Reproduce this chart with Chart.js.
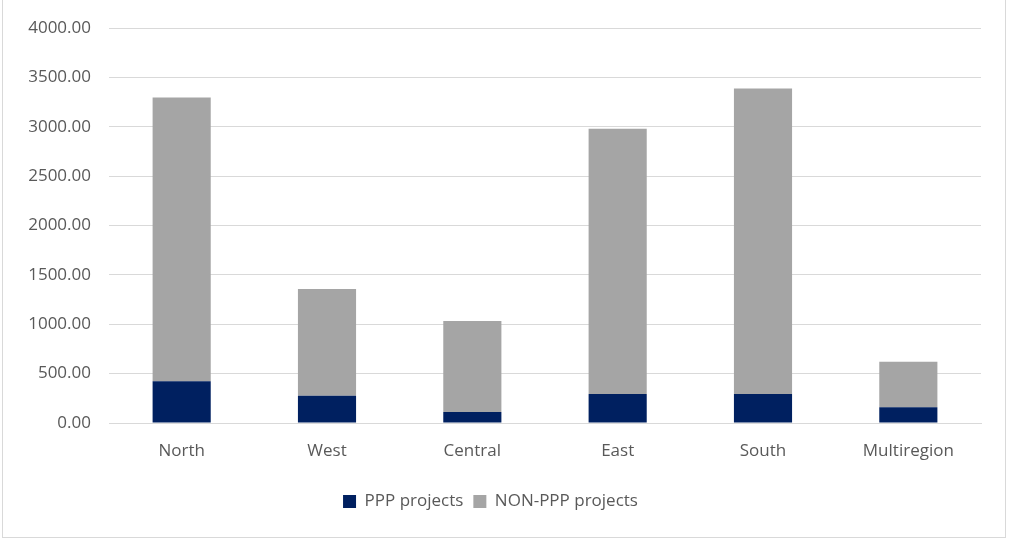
<!DOCTYPE html>
<html>
<head>
<meta charset="utf-8">
<script src="https://cdn.jsdelivr.net/npm/chart.js@4"></script>
<style>
  body { margin: 0; background: #fff; }
  #wrap { width: 1010px; height: 540px; position: relative; }
</style>
</head>
<body>
<div id="wrap"><canvas id="graph" width="1010" height="540"></canvas></div>
<script>
var ctx = document.getElementById("graph").getContext("2d")

// values
var regions = ["North", "West", "Central", "East", "South", "Multiregion"];
var pppValues = [422, 276, 111, 294, 294, 159];
var nonPppValues = [2876, 1081, 922, 2686, 3095, 462];

var seriesNames = ["PPP projects", "NON-PPP projects"];
var yMax = 4000;
var yStep = 500;

// light frame round the whole chart
var framePlugin = {
    id: "frame",
    afterDraw: function (chart) {
        let c = chart.ctx;
        c.save();
        c.strokeStyle = "#d9d9d9";
        c.lineWidth = 1;
        c.strokeRect(2.5, -1.5, 1003, 539);
        c.restore();
    }
};

Chart.defaults.font.family = "'Open Sans', 'Noto Sans', sans-serif";
Chart.defaults.font.size = 17;
Chart.defaults.color = "#595959";

var chart = new Chart(ctx, {
    type: "bar",
    data: {
        labels: regions,
        datasets: [
            {
                label: seriesNames[0],
                data: pppValues,
                backgroundColor: "#002060",
                barPercentage: 0.4,
                categoryPercentage: 1.0
            },
            {
                label: seriesNames[1],
                data: nonPppValues,
                backgroundColor: "#a5a5a5",
                barPercentage: 0.4,
                categoryPercentage: 1.0
            }
        ]
    },
    options: {
        responsive: false,
        animation: false,
        layout: {
            padding: { left: 0, right: 29, top: 28, bottom: 20 }
        },
        plugins: {
            tooltip: { enabled: false },
            legend: {
                position: "bottom",
                labels: {
                    boxWidth: 13,
                    boxHeight: 13,
                    padding: 10,
                    font: { size: 17 }
                }
            }
        },
        scales: {
            x: {
                stacked: true,
                grid: { display: false },
                border: { color: "#d9d9d9" },
                ticks: { padding: 10, font: { size: 17 } },
                afterFit: function (axis) { axis.height = 60; }
            },
            y: {
                stacked: true,
                min: 0,
                max: yMax,
                ticks: {
                    stepSize: yStep,
                    padding: 18,
                    font: { size: 17 },
                    callback: function (v) { return Number(v).toFixed(2); }
                },
                grid: { color: "#d9d9d9", drawTicks: false },
                border: { display: false },
                afterFit: function (axis) { axis.width = 109; }
            }
        }
    },
    plugins: [framePlugin]
});
</script>
</body>
</html>
